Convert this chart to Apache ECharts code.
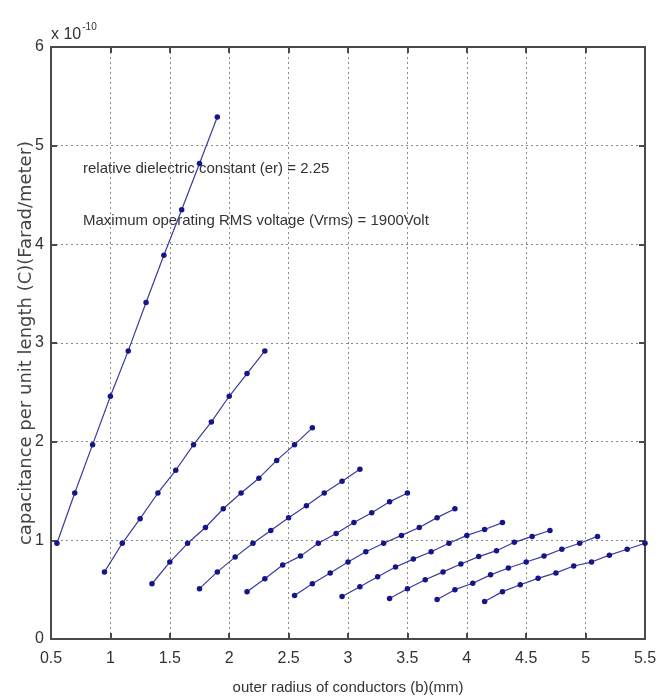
<!DOCTYPE html>
<html>
<head>
<meta charset="utf-8">
<script src="https://cdn.jsdelivr.net/npm/echarts@6/dist/echarts.min.js"></script>
<style>
  html, body { margin: 0; padding: 0; background: #fff; }
  #chart { width: 667px; height: 699px; }
</style>
</head>
<body>
<div id="chart"></div>
<script>
// Outer radius b (mm) for each curve, and capacitance per unit length in units of 1e-10 F/m
const x1 = [0.55, 0.70, 0.85, 1.00, 1.15, 1.30, 1.45, 1.60, 1.75, 1.90];
const c1 = [0.97, 1.48, 1.97, 2.46, 2.92, 3.41, 3.89, 4.35, 4.82, 5.29];
const x2 = [0.95, 1.10, 1.25, 1.40, 1.55, 1.70, 1.85, 2.00, 2.15, 2.30];
const c2 = [0.68, 0.97, 1.22, 1.48, 1.71, 1.97, 2.20, 2.46, 2.69, 2.92];
const x3 = [1.35, 1.50, 1.65, 1.80, 1.95, 2.10, 2.25, 2.40, 2.55, 2.70];
const c3 = [0.56, 0.78, 0.97, 1.13, 1.32, 1.48, 1.63, 1.81, 1.97, 2.14];
const x4 = [1.75, 1.90, 2.05, 2.20, 2.35, 2.50, 2.65, 2.80, 2.95, 3.10];
const c4 = [0.51, 0.68, 0.83, 0.97, 1.10, 1.23, 1.35, 1.48, 1.60, 1.72];
const x5 = [2.15, 2.30, 2.45, 2.60, 2.75, 2.90, 3.05, 3.20, 3.35, 3.50];
const c5 = [0.48, 0.61, 0.75, 0.84, 0.97, 1.07, 1.18, 1.28, 1.39, 1.48];
const x6 = [2.55, 2.70, 2.85, 3.00, 3.15, 3.30, 3.45, 3.60, 3.75, 3.90];
const c6 = [0.44, 0.56, 0.67, 0.78, 0.885, 0.97, 1.05, 1.13, 1.23, 1.32];
const x7 = [2.95, 3.10, 3.25, 3.40, 3.55, 3.70, 3.85, 4.00, 4.15, 4.30];
const c7 = [0.43, 0.53, 0.63, 0.73, 0.81, 0.885, 0.97, 1.05, 1.11, 1.18];
const x8 = [3.35, 3.50, 3.65, 3.80, 3.95, 4.10, 4.25, 4.40, 4.55, 4.70];
const c8 = [0.41, 0.51, 0.60, 0.68, 0.76, 0.835, 0.895, 0.98, 1.04, 1.10];
const x9 = [3.75, 3.90, 4.05, 4.20, 4.35, 4.50, 4.65, 4.80, 4.95, 5.10];
const c9 = [0.40, 0.50, 0.565, 0.65, 0.72, 0.78, 0.84, 0.91, 0.97, 1.04];
const x10 = [4.15, 4.30, 4.45, 4.60, 4.75, 4.90, 5.05, 5.20, 5.35, 5.50];
const c10 = [0.38, 0.48, 0.55, 0.615, 0.67, 0.74, 0.78, 0.85, 0.91, 0.97];

const curves = [[x1, c1], [x2, c2], [x3, c3], [x4, c4], [x5, c5],
                [x6, c6], [x7, c7], [x8, c8], [x9, c9], [x10, c10]];

const xTicks = { min: 0.5, max: 5.5, interval: 0.5 };
const yTicks = { min: 0, max: 6, interval: 1 };

const frameColor = '#4a4a4a';
const gridColor = '#8a8a8a';
const narrow = '"Liberation Sans Narrow", "Liberation Sans", Arial, sans-serif';

const chart = echarts.init(document.getElementById('chart'), null, { renderer: 'canvas' });

const series = curves.map(([xs, cs]) => ({
  type: 'line',
  xAxisIndex: 0,
  yAxisIndex: 0,
  data: xs.map((x, i) => [x, cs[i]]),
  symbol: 'circle',
  symbolSize: 5.5,
  showSymbol: true,
  lineStyle: { color: '#3b3b9c', width: 1.2 },
  itemStyle: { color: '#15158a' },
  animation: false,
  silent: true
}));

const gridBox = { left: 51, right: 22, top: 47, bottom: 60, outerBoundsMode: 'none', containLabel: false };

chart.setOption({
  backgroundColor: '#ffffff',
  animation: false,
  grid: gridBox,
  xAxis: [
    {
      type: 'value', position: 'bottom', ...xTicks,
      name: 'outer radius of conductors (b)(mm)',
      nameLocation: 'middle', nameGap: 41,
      nameMoveOverlap: false,
      nameTextStyle: { fontFamily: narrow, fontSize: 15, color: '#333' },
      axisLine: { show: true, onZero: false, lineStyle: { color: frameColor, width: 2 } },
      axisTick: { show: true, inside: true, length: 6, lineStyle: { color: frameColor, width: 2 } },
      axisLabel: { fontFamily: narrow, fontSize: 16, color: '#333', margin: 12 },
      splitLine: { show: true, lineStyle: { color: gridColor, type: [2, 3], width: 1 } }
    },
    {
      type: 'value', position: 'top', ...xTicks,
      axisLine: { show: true, onZero: false, lineStyle: { color: frameColor, width: 2 } },
      axisTick: { show: true, inside: true, length: 6, lineStyle: { color: frameColor, width: 2 } },
      axisLabel: { show: false },
      splitLine: { show: false }
    }
  ],
  yAxis: [
    {
      type: 'value', position: 'left', ...yTicks,
      name: 'capacitance per unit length (C)(Farad/meter)',
      nameLocation: 'middle', nameGap: 16, nameRotate: 90,
      nameMoveOverlap: false,
      nameTextStyle: { fontFamily: '"DejaVu Sans", Verdana, sans-serif', fontSize: 18, color: '#444' },
      axisLine: { show: true, onZero: false, lineStyle: { color: frameColor, width: 2 } },
      axisTick: { show: true, inside: true, length: 6, lineStyle: { color: frameColor, width: 2 } },
      axisLabel: { fontFamily: narrow, fontSize: 16, color: '#333', margin: 7 },
      splitLine: { show: true, lineStyle: { color: gridColor, type: [2, 3], width: 1 } }
    },
    {
      type: 'value', position: 'right', ...yTicks,
      axisLine: { show: true, onZero: false, lineStyle: { color: frameColor, width: 2 } },
      axisTick: { show: true, inside: true, length: 6, lineStyle: { color: frameColor, width: 2 } },
      axisLabel: { show: false },
      splitLine: { show: false }
    }
  ],
  graphic: [
    {
      type: 'text', left: 51, top: 22, silent: true,
      style: {
        text: '{b|x 10}{s|-10}',
        rich: {
          b: { fontFamily: narrow, fontSize: 16, fill: '#333', verticalAlign: 'bottom', height: 22 },
          s: { fontFamily: narrow, fontSize: 10, fill: '#333', verticalAlign: 'top', padding: [0, 0, 14, 1] }
        }
      }
    },
    {
      type: 'text', left: 83, top: 161, silent: true,
      style: { text: 'relative dielectric constant (er) = 2.25', fontFamily: narrow, fontSize: 15, fill: '#333' }
    },
    {
      type: 'text', left: 83, top: 213, silent: true,
      style: { text: 'Maximum operating RMS voltage (Vrms) = 1900Volt', fontFamily: narrow, fontSize: 15, fill: '#333' }
    }
  ],
  series: series
});
</script>
</body>
</html>
